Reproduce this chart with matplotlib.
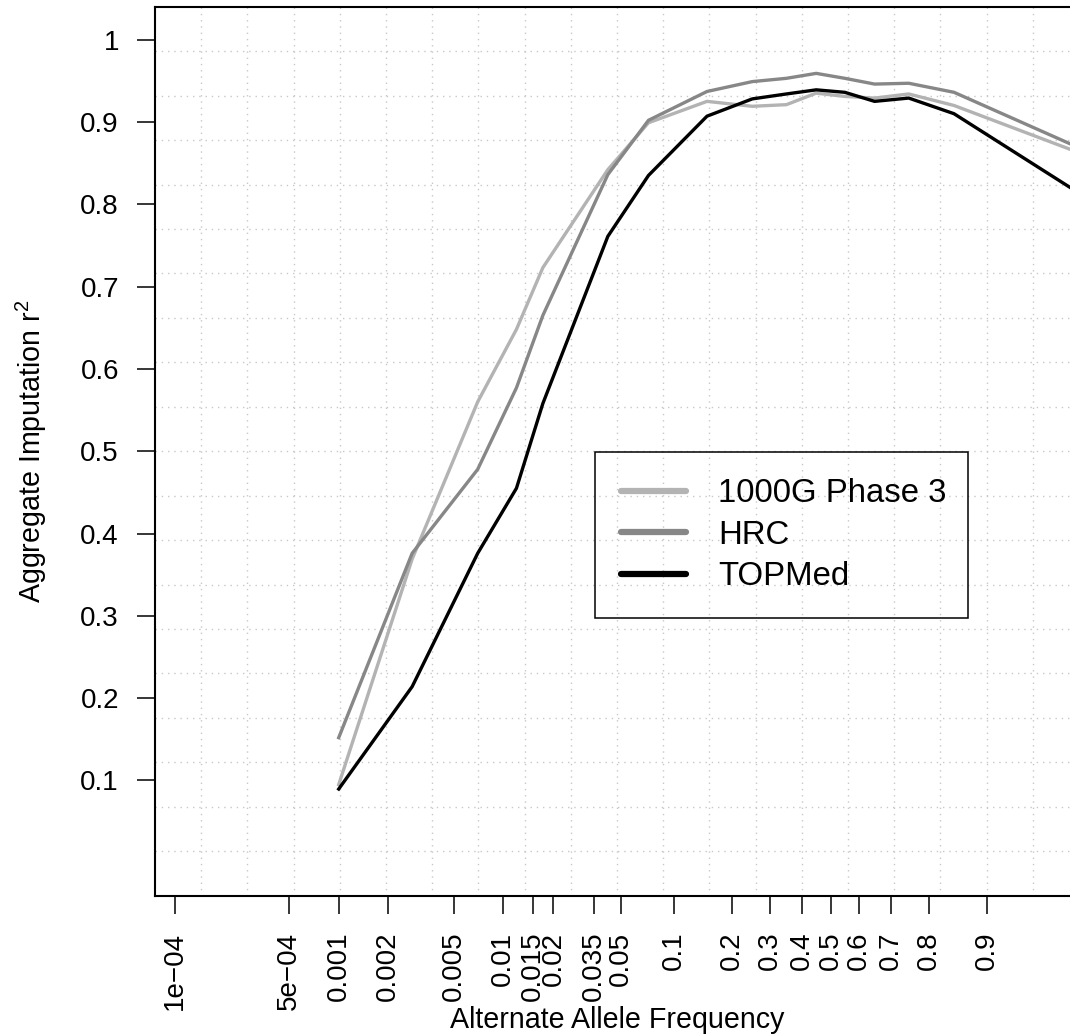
import numpy as np
import matplotlib
matplotlib.use("Agg")
import matplotlib.pyplot as plt
from matplotlib.lines import Line2D
from matplotlib.ticker import NullLocator

plt.rcParams["font.family"] = ["Liberation Sans", "DejaVu Sans"]
plt.rcParams["mathtext.default"] = "regular"

# alternate allele frequency (bin centres) and aggregate r2 per panel
freq = [0.001, 0.0028, 0.007, 0.012, 0.0173, 0.042, 0.072, 0.15, 0.25,
        0.35, 0.45, 0.55, 0.65, 0.75, 0.85, 0.975]
r2_1000g = [0.095, 0.369, 0.560, 0.648, 0.723, 0.842, 0.899, 0.925, 0.919,
            0.921, 0.935, 0.931, 0.929, 0.934, 0.920, 0.857]
r2_hrc = [0.152, 0.376, 0.478, 0.577, 0.665, 0.836, 0.902, 0.937, 0.949,
          0.953, 0.959, 0.953, 0.946, 0.947, 0.936, 0.862]
r2_topmed = [0.0896, 0.214, 0.376, 0.455, 0.558, 0.761, 0.835, 0.907, 0.928,
             0.934, 0.939, 0.936, 0.925, 0.929, 0.910, 0.804]

panels = ["1000G Phase 3", "HRC", "TOPMed"]
colors = ["#b3b3b3", "#878787", "#000000"]

x_ticks = [1e-4, 5e-4, 0.001, 0.002, 0.005, 0.01, 0.015, 0.02, 0.035, 0.05,
           0.1, 0.2, 0.3, 0.4, 0.5, 0.6, 0.7, 0.8, 0.9]
x_labels = ["1e\u221204", "5e\u221204", "0.001", "0.002", "0.005", "0.01",
            "0.015", "0.02", "0.035", "0.05", "0.1", "0.2", "0.3", "0.4",
            "0.5", "0.6", "0.7", "0.8", "0.9"]
y_ticks = [0.1, 0.2, 0.3, 0.4, 0.5, 0.6, 0.7, 0.8, 0.9, 1.0]
y_labels = ["0.1", "0.2", "0.3", "0.4", "0.5", "0.6", "0.7", "0.8", "0.9", "1"]


def logit(p):
    p = np.asarray(p)
    return np.log(p / (1 - p))


def expit(z):
    return 1 / (1 + np.exp(-np.asarray(z)))


W, H = 1070, 1036
fig = plt.figure(figsize=(W / 100, H / 100), dpi=100)
ax = fig.add_axes([155 / W, 1 - 895.7 / H, 924 / W, 889 / H])
ax.set_xscale("logit")

xlo, xhi = expit(-9.487), expit(3.49)
ylo, yhi = -0.04, 1.04
ax.set_xlim(xlo, xhi)
ax.set_ylim(ylo, yhi)

# R-style grid(): 20 equal cells in each direction
for v in expit(np.linspace(logit(xlo), logit(xhi), 21)[1:-1]):
    ax.axvline(v, color="#c8c8c8", lw=1, dashes=(1, 3.5), zorder=0)
for v in np.linspace(ylo, yhi, 21)[1:-1]:
    ax.axhline(v, color="#c8c8c8", lw=1, dashes=(1, 3.5), zorder=0)

for name, vals, c in zip(panels, [r2_1000g, r2_hrc, r2_topmed], colors):
    ax.plot(freq, vals, color=c, lw=2.4, zorder=3)

ax.set_xticks(x_ticks, x_labels, rotation=90)
ax.xaxis.set_minor_locator(NullLocator())
ax.set_yticks(y_ticks, y_labels)
ax.tick_params(axis="both", direction="out", length=13, width=1.1,
               labelsize=20, pad=13)
for s in ax.spines.values():
    s.set_linewidth(1.5)

handles = [Line2D([], [], color=c, lw=4.5, solid_capstyle="round") for c in colors]
leg = ax.legend(handles, panels, loc="upper left",
                bbox_to_anchor=(595 / W, 1 - 451.7 / H, 372.7 / W, 0),
                bbox_transform=fig.transFigure, mode="expand",
                borderaxespad=0, fontsize=23.7, fancybox=False,
                framealpha=1, facecolor="none", edgecolor="black",
                handlelength=1.97, handletextpad=0.97, borderpad=0.8,
                labelspacing=0.32)
leg.get_frame().set_linewidth(1.1)

fig.text(617 / W, 1 - 1028 / H, "Alternate Allele Frequency",
         ha="center", va="baseline", fontsize=20.6)
fig.text(31.5 / W, 1 - 451 / H, r"Aggregate Imputation r$^{2}$",
         rotation=90, ha="center", va="center", fontsize=20.6)

fig.savefig("out.png", dpi=100)
